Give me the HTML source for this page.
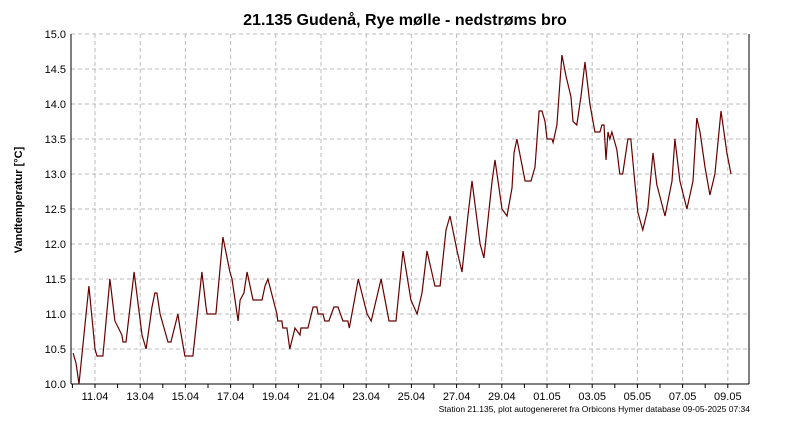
<!DOCTYPE html>
<html><head><meta charset="utf-8"><style>
body{margin:0;background:#fff;}
svg text{font-family:"Liberation Sans",sans-serif;}
</style></head><body>
<svg width="800" height="425" viewBox="0 0 800 425" xmlns="http://www.w3.org/2000/svg">
<rect width="800" height="425" fill="#fff"/>
<text x="405" y="25" text-anchor="middle" font-size="16" font-weight="bold">21.135  Gudenå, Rye mølle - nedstrøms bro</text>
<text transform="translate(22,200) rotate(-90)" text-anchor="middle" font-size="11" font-weight="bold">Vandtemperatur [°C]</text>
<g id="grid"></g>
<g id="axes"></g>
<g id="series"></g>
<text x="750" y="412" text-anchor="end" font-size="8.5">Station 21.135, plot autogenereret fra Orbicons Hymer database 09-05-2025 07:34</text>
</svg>
<script>
const dayOffsets=[0.03,0.16,0.29,0.73,1.0,1.09,1.35,1.66,1.88,2.19,2.24,2.37,2.73,3.08,3.26,3.52,3.65,3.74,3.88,4.23,4.36,4.67,4.76,4.98,5.33,5.73,5.91,5.96,6.35,6.66,6.97,7.06,7.33,7.42,7.59,7.73,7.99,8.39,8.52,8.65,9.05,9.09,9.27,9.31,9.49,9.62,9.85,10.07,10.11,10.42,10.65,10.82,10.87,11.09,11.17,11.35,11.57,11.75,11.97,12.19,12.25,12.65,13.04,13.22,13.66,14.01,14.32,14.63,14.98,15.25,15.47,15.69,16.04,16.27,16.53,16.71,17.02,17.24,17.5,17.68,18.04,18.21,18.57,18.7,18.92,19.01,19.23,19.45,19.54,19.67,20.03,20.29,20.47,20.65,20.78,20.91,21.0,21.22,21.27,21.44,21.66,21.84,22.06,22.15,22.32,22.5,22.68,22.9,23.12,23.34,23.43,23.52,23.61,23.7,23.78,23.87,24.09,24.22,24.35,24.58,24.71,24.88,25.02,25.24,25.46,25.69,25.86,26.22,26.53,26.66,26.88,27.19,27.46,27.63,27.77,27.99,28.21,28.43,28.7,28.96,29.14];
const temps=[10.44,10.3,10.0,11.4,10.5,10.4,10.4,11.5,10.9,10.7,10.6,10.6,11.6,10.7,10.5,11.1,11.3,11.3,11.0,10.6,10.6,11.0,10.8,10.4,10.4,11.6,11.1,11.0,11.0,12.1,11.6,11.5,10.9,11.2,11.3,11.6,11.2,11.2,11.4,11.5,11.0,10.9,10.9,10.8,10.8,10.5,10.8,10.7,10.8,10.8,11.1,11.1,11.0,11.0,10.9,10.9,11.1,11.1,10.9,10.9,10.8,11.5,11.0,10.9,11.5,10.9,10.9,11.9,11.2,11.0,11.3,11.9,11.4,11.4,12.2,12.4,11.9,11.6,12.4,12.9,12.0,11.8,12.9,13.2,12.7,12.5,12.4,12.8,13.3,13.5,12.9,12.9,13.1,13.9,13.9,13.75,13.5,13.5,13.45,13.7,14.7,14.4,14.1,13.75,13.7,14.1,14.6,14.0,13.6,13.6,13.7,13.7,13.2,13.6,13.5,13.6,13.35,13.0,13.0,13.5,13.5,12.9,12.45,12.2,12.5,13.3,12.85,12.4,12.9,13.5,12.9,12.5,12.9,13.8,13.6,13.1,12.7,13.0,13.9,13.3,13.0];
const yTicks=[10.0,10.5,11.0,11.5,12.0,12.5,13.0,13.5,14.0,14.5,15.0];
const xTickLabels=["11.04","13.04","15.04","17.04","19.04","21.04","23.04","25.04","27.04","29.04","01.05","03.05","05.05","07.05","09.05"];
const NS="http://www.w3.org/2000/svg";
const X0=71,X1=749,Y0=34,Y1=384;
const xs=d=>72.4+d*22.6;
const ys=v=>Y1-(v-10)*(Y1-Y0)/5;
function mk(t,a,p){const e=document.createElementNS(NS,t);for(const k in a)e.setAttribute(k,a[k]);p.appendChild(e);return e;}
const grid=document.getElementById('grid'),axes=document.getElementById('axes'),series=document.getElementById('series');
yTicks.forEach(v=>{
 const y=ys(v);
 const g=mk('line',{x1:X0,x2:X1,y1:y,y2:y,stroke:'#bbb','stroke-dasharray':'4,3'},grid);
 
 
 const t=mk('text',{x:66,y:y+4,'text-anchor':'end','font-size':'11'},axes);
 t.textContent=v.toFixed(1);
 
 
});
xTickLabels.forEach((s,i)=>{
 const x=xs(1+2*i);
 const g=mk('line',{x1:x,x2:x,y1:Y0,y2:Y1,stroke:'#bbb','stroke-dasharray':'4,3'},grid);
 
 
 const t=mk('text',{x:x,y:400,'text-anchor':'middle','font-size':'11'},axes);
 t.textContent=s;
 
 
});
for(let d=0;d<=30;d++){const x=xs(d);if(x>X1)break;
 const tk=mk('line',{x1:x,x2:x,y1:Y1,y2:Y1+4,stroke:'#000'},axes);
 
 
}
const la=mk('line',{x1:X0,x2:X0,y1:Y0,y2:Y1,stroke:'#000'},axes);


const ra=mk('line',{x1:X1,x2:X1,y1:Y0,y2:Y1,stroke:'#000'},axes);


const ba=mk('line',{x1:X0,x2:X1,y1:Y1,y2:Y1,stroke:'#000'},axes);


const pts=dayOffsets.map((d,i)=>xs(d).toFixed(1)+','+ys(temps[i]).toFixed(1)).join(' ');
const pl=mk('polyline',{points:pts,fill:'none',stroke:'#6b0000','stroke-width':'1.2'},series);


</script>
</body></html>
